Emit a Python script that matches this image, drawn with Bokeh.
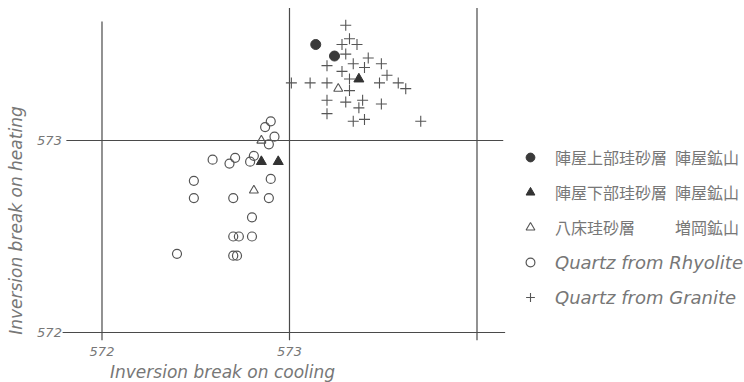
import math
from bokeh.plotting import figure
from bokeh.models import Legend, LegendItem
from bokeh.core.properties import value
from bokeh.embed import file_html
from bokeh.resources import INLINE

# ---------------- data ----------------
x_ticks = [572, 573, 574]
y_ticks = [572, 573]
x_tick_labels = ["572", "573"]
y_tick_labels = ["572", "573"]

# Quartz from Granite (+)
granite_x = [573.30, 573.32, 573.28, 573.36, 573.30, 573.42, 573.20, 573.34, 573.49, 573.40,
             573.28, 573.52, 573.32, 573.01, 573.11, 573.20, 573.48, 573.58, 573.62, 573.32,
             573.20, 573.30, 573.39, 573.49, 573.37, 573.20, 573.34, 573.40, 573.70]
granite_y = [573.60, 573.53, 573.50, 573.50, 573.45, 573.43, 573.39, 573.40, 573.40, 573.38,
             573.36, 573.34, 573.32, 573.30, 573.30, 573.30, 573.30, 573.30, 573.27, 573.26,
             573.21, 573.20, 573.21, 573.19, 573.17, 573.14, 573.10, 573.11, 573.10]

# Quartz from Rhyolite (o)
rhyolite_x = [572.90, 572.87, 572.92, 572.89, 572.81, 572.79, 572.59, 572.71, 572.68, 572.49,
              572.90, 572.49, 572.70, 572.89, 572.80, 572.70, 572.73, 572.80, 572.40, 572.70,
              572.72]
rhyolite_y = [573.10, 573.07, 573.02, 572.98, 572.92, 572.89, 572.90, 572.91, 572.88, 572.79,
              572.80, 572.70, 572.70, 572.70, 572.60, 572.50, 572.50, 572.50, 572.41, 572.40,
              572.40]

# 陣屋上部珪砂層 (filled circle)
upper_x = [573.14, 573.24]
upper_y = [573.50, 573.44]
# 陣屋下部珪砂層 (filled triangle)
lower_x = [573.37, 572.85, 572.94]
lower_y = [573.32, 572.89, 572.89]
# 八床珪砂層 (open triangle)
yatoko_x = [573.26, 572.85, 572.81]
yatoko_y = [573.27, 573.00, 572.74]

legend_labels = ["陣屋上部珪砂層\u2002陣屋鉱山",
                 "陣屋下部珪砂層\u2002陣屋鉱山",
                 "八床珪砂層\u3000\u3000\u2002増岡鉱山",
                 "Quartz from Rhyolite",
                 "Quartz from Granite"]
x_title = "Inversion break on cooling"
y_title = "Inversion break on heating"

# ---------------- figure ----------------
X0, X1 = 571.4587, 575.4267
Y0, Y1 = 571.7396, 573.7292
p = figure(width=744, height=382, x_range=(X0, X1), y_range=(Y0, Y1),
           output_backend="svg", toolbar_location=None,
           x_axis_type=None, y_axis_type=None, min_border=0)
p.outline_line_color = None
p.background_fill_color = "white"
p.border_fill_color = "white"

LINE = "#4a4a4a"
TXT = "#777777"
LATIN = "DejaVu Sans"

# frame lines (vertical at x ticks, horizontal at y ticks)
v_bottom = [y_ticks[0] - 0.04] * 3
v_top = [573.62, 573.69, 573.69]
p.segment(x0=x_ticks, y0=v_bottom, x1=x_ticks, y1=v_top, line_color=LINE, line_width=1.2)
h_left = [571.79, 571.81]
h_right = [574.15, 574.14]
p.segment(x0=h_left, y0=y_ticks, x1=h_right, y1=y_ticks, line_color=LINE, line_width=1.2)

# tick labels
p.text(x=x_ticks[:2], y=[y_ticks[0] - 0.10] * 2, text=x_tick_labels,
       text_font=value(LATIN), text_font_style="italic", text_font_size="13px",
       text_color=TXT, text_align="center", text_baseline="middle")
p.text(x=[x_ticks[0] - 0.28] * 2, y=y_ticks, text=y_tick_labels,
       text_font=value(LATIN), text_font_style="italic", text_font_size="13px",
       text_color=TXT, text_align="center", text_baseline="middle")

# axis titles
p.text(x=[572.643], y=[571.792], text=[x_title],
       text_font=value(LATIN), text_font_style="italic", text_font_size="17px",
       text_color=TXT, text_align="center", text_baseline="middle")
p.text(x=[571.539], y=[572.583], text=[y_title], angle=math.pi / 2,
       text_font=value(LATIN), text_font_style="italic", text_font_size="17px",
       text_color=TXT, text_align="center", text_baseline="middle")

# data marks
r_gr = p.scatter(granite_x, granite_y, marker="cross", size=11, line_color="#555555", line_width=1.1)
r_rh = p.scatter(rhyolite_x, rhyolite_y, marker="circle", size=9, fill_color=None,
                 line_color="#555555", line_width=1.2)
r_up = p.scatter(upper_x, upper_y, marker="circle", size=10, fill_color="#3a3a3a", line_color="#3a3a3a")
r_lo = p.scatter(lower_x, lower_y, marker="triangle", size=10, fill_color="#333333", line_color="#333333")
r_ya = p.scatter(yatoko_x, yatoko_y, marker="triangle", size=9, fill_color=None,
                 line_color="#555555", line_width=1.1)

common = dict(background_fill_alpha=0, border_line_color=None, padding=0, margin=0,
              spacing=9, glyph_width=22, glyph_height=26, label_height=26,
              label_standoff=14, label_text_color=TXT, label_text_baseline="middle")

leg1 = Legend(items=[LegendItem(label=legend_labels[0], renderers=[r_up]),
                     LegendItem(label=legend_labels[1], renderers=[r_lo]),
                     LegendItem(label=legend_labels[2], renderers=[r_ya])],
              location=(519, 142), label_text_font="Noto Sans CJK JP",
              label_text_font_size="16px", **common)
leg2 = Legend(items=[LegendItem(label=legend_labels[3], renderers=[r_rh]),
                     LegendItem(label=legend_labels[4], renderers=[r_gr])],
              location=(519, 72), label_text_font=LATIN, label_text_font_style="italic",
              label_text_font_size="18px", **common)
p.add_layout(leg1)
p.add_layout(leg2)

open("out.html", "w").write(file_html(p, INLINE))
